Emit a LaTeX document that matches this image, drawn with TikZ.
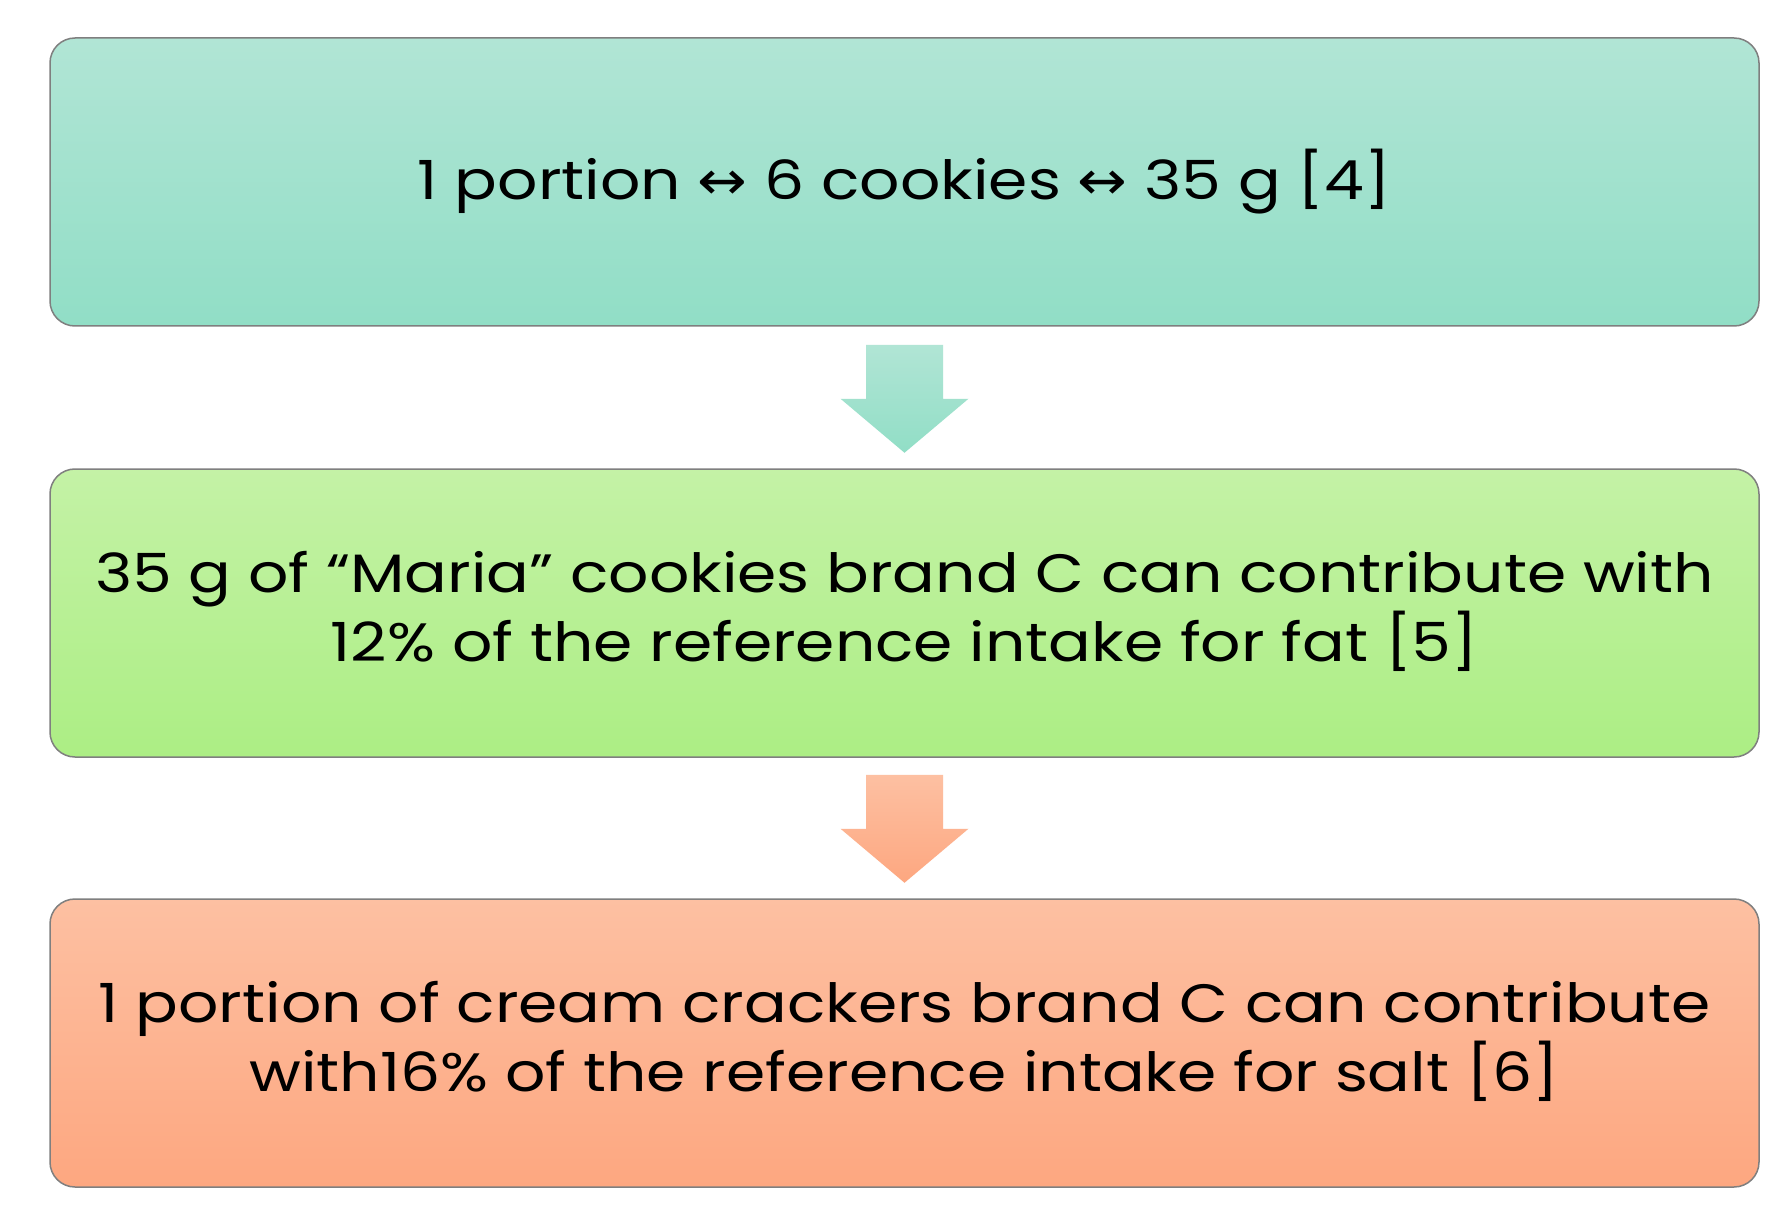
\documentclass[tikz,border=0pt]{standalone}
\usepackage{fontspec}
\setmainfont{Poppins}[FakeStretch=1.17]
\newfontfamily\arrowfont{DejaVu Sans}[FakeStretch=1.1]
\usetikzlibrary{calc}
\definecolor{tealA}{HTML}{B1E5D5}
\definecolor{tealB}{HTML}{91DEC6}
\definecolor{greenA}{HTML}{C4F2A6}
\definecolor{greenB}{HTML}{ACEE84}
\definecolor{orangeA}{HTML}{FDC0A2}
\definecolor{orangeB}{HTML}{FDA780}
\definecolor{edge}{HTML}{7F7F7F}
\tikzset{
  stepbox/.style={rectangle, rounded corners=25pt, draw=edge, line width=1.5pt,
    minimum width=1709pt, minimum height=288pt, align=center, inner sep=0pt,
    font=\fontsize{54}{70}\selectfont, text=black}
}
\newcommand{\lrarr}{{\arrowfont\fontsize{54}{70}\selectfont ↔}}
\begin{document}
\begin{tikzpicture}[x=1pt,y=-1pt]
\useasboundingbox (0,0) rectangle (1783,1206);
\fill[white] (0,0) rectangle (1783,1206);
\node[stepbox, top color=tealA, bottom color=tealB] (b1) at (904.5,182)
  {\raisebox{-3pt}{1 portion \lrarr{} 6 cookies \lrarr{} 35 g [4]}};
\node[stepbox, top color=greenA, bottom color=greenB] (b2) at (904.5,613)
  {\raisebox{-3pt}{\begin{tabular}{@{}c@{}}35 g of “Maria” cookies brand C can contribute with\\[-2pt]12\% of the reference intake for fat [5]\end{tabular}}};
\node[stepbox, top color=orangeA, bottom color=orangeB] (b3) at (904.5,1043)
  {\raisebox{-3pt}{\begin{tabular}{@{}c@{}}1 portion of cream crackers brand C can contribute\\[-2pt]with16\% of the reference intake for salt [6]\end{tabular}}};
% block arrows
\coordinate (a1) at ($(b1.south)+(0,18)$);
\coordinate (a2) at ($(b2.south)+(0,17)$);
\shade[top color=tealA, bottom color=tealB]
  ($(a1)+(-38.5,0)$) -- ($(a1)+(38.5,0)$) -- ($(a1)+(38.5,54)$) -- ($(a1)+(64,54)$)
  -- ($(a1)+(0,108)$) -- ($(a1)+(-64,54)$) -- ($(a1)+(-38.5,54)$) -- cycle;
\shade[top color=orangeA, bottom color=orangeB]
  ($(a2)+(-38.5,0)$) -- ($(a2)+(38.5,0)$) -- ($(a2)+(38.5,54)$) -- ($(a2)+(64,54)$)
  -- ($(a2)+(0,108)$) -- ($(a2)+(-64,54)$) -- ($(a2)+(-38.5,54)$) -- cycle;
\end{tikzpicture}
\end{document}
